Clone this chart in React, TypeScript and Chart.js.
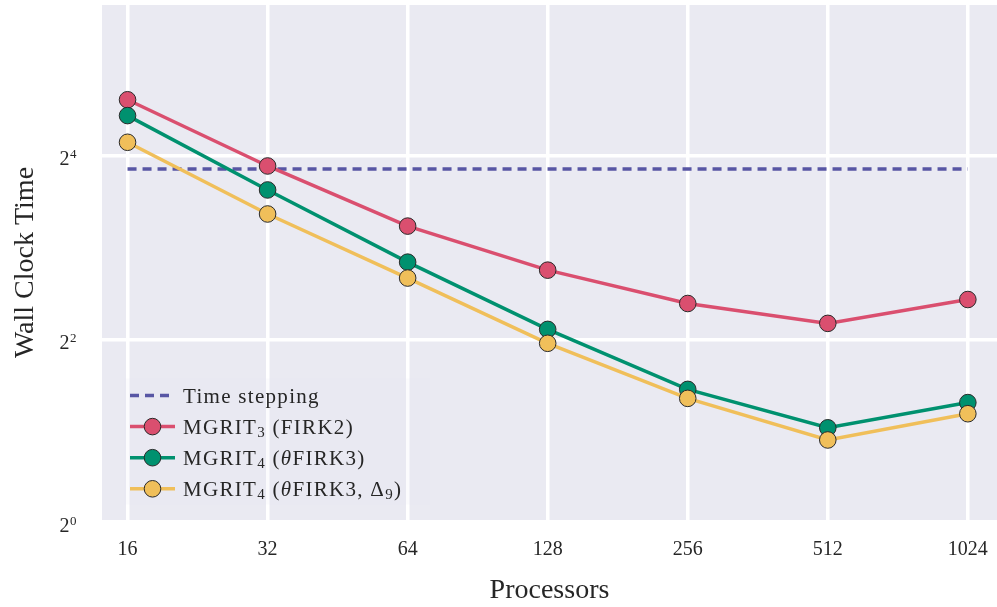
import React, { useEffect, useRef } from "react";
import { Chart, registerables } from "chart.js";

Chart.register(...registerables);

// ---- data ----
const processors = [16, 32, 64, 128, 256, 512, 1024];
const timeStepping = [14.47, 14.47, 14.47, 14.47, 14.47, 14.47, 14.47];
const mgrit3Firk2 = [24.4, 14.8, 9.4, 6.74, 5.24, 4.51, 5.4];
const mgrit4Firk3 = [21.65, 12.35, 7.16, 4.31, 2.74, 2.05, 2.48];
const mgrit4Firk3Delta9 = [17.7, 10.3, 6.35, 3.88, 2.56, 1.87, 2.28];
const yTickValues = [1, 4, 16];
const yTickBase = "2";
const yTickExponents = ["0", "2", "4"];
const xTitle = "Processors";
const yTitle = "Wall Clock Time";

// ---- styles ----
const BLUE = "#5856A4";
const RED = "#DA4F6F";
const GREEN = "#00916F";
const YELLOW = "#F0BF5A";
const TEXT = "#262626";
const BG = "#EAEAF2";
const FONT = '"Liberation Serif", "DejaVu Serif", serif';

type Part = { t: string; sub?: boolean; italic?: boolean };
const legendEntries: { color: string; dashed?: boolean; parts: Part[] }[] = [
  { color: BLUE, dashed: true, parts: [{ t: "Time stepping" }] },
  { color: RED, parts: [{ t: "MGRIT" }, { t: "3", sub: true }, { t: " (FIRK2)" }] },
  {
    color: GREEN,
    parts: [{ t: "MGRIT" }, { t: "4", sub: true }, { t: " (" }, { t: "θ", italic: true }, { t: "FIRK3)" }],
  },
  {
    color: YELLOW,
    parts: [
      { t: "MGRIT" },
      { t: "4", sub: true },
      { t: " (" },
      { t: "θ", italic: true },
      { t: "FIRK3, Δ" },
      { t: "9", sub: true },
      { t: ")" },
    ],
  },
];

const bgPlugin = {
  id: "bgPlugin",
  beforeDraw(chart: any) {
    const { ctx, chartArea } = chart;
    ctx.save();
    ctx.fillStyle = BG;
    ctx.fillRect(chartArea.left, chartArea.top, chartArea.right - chartArea.left, chartArea.bottom - chartArea.top);
    ctx.restore();
  },
};

// y tick labels as 2^n with a raised exponent
const yTickPlugin = {
  id: "yPowTicks",
  afterDraw(chart: any) {
    const { ctx } = chart;
    const scale = chart.scales.y;
    const right = scale.right - 26;
    ctx.save();
    ctx.fillStyle = TEXT;
    ctx.textBaseline = "alphabetic";
    ctx.textAlign = "left";
    yTickValues.forEach((v, i) => {
      const y = scale.getPixelForValue(v);
      ctx.font = `13px ${FONT}`;
      const ew = ctx.measureText(yTickExponents[i]).width;
      ctx.font = `20px ${FONT}`;
      const bw = ctx.measureText(yTickBase).width;
      const x0 = right - ew - bw;
      ctx.fillText(yTickBase, x0, y + 9.5);
      ctx.font = `13px ${FONT}`;
      ctx.fillText(yTickExponents[i], x0 + bw + 0.5, y + 2.5);
    });
    ctx.restore();
  },
};

const legendPlugin = {
  id: "insideLegend",
  afterDatasetsDraw(chart: any) {
    const { ctx, chartArea } = chart;
    const x0 = chartArea.left + 28;
    const x1 = x0 + 45;
    const xm = (x0 + x1) / 2;
    const tx = x0 + 53;
    const y0 = chartArea.bottom - 124.5;
    const dy = 31.1;
    // faint translucent legend frame background
    ctx.save();
    ctx.fillStyle = "rgba(234,234,242,0.18)";
    ctx.fillRect(chartArea.left + 22, y0 - 17, 306, 126);
    ctx.restore();
    legendEntries.forEach((e, i) => {
      const y = y0 + i * dy;
      ctx.save();
      ctx.strokeStyle = e.color;
      ctx.lineWidth = 3.5;
      ctx.lineCap = "butt";
      if (e.dashed) ctx.setLineDash([9, 6]);
      ctx.beginPath();
      ctx.moveTo(x0, y);
      ctx.lineTo(x1, y);
      ctx.stroke();
      ctx.setLineDash([]);
      if (!e.dashed) {
        ctx.beginPath();
        ctx.arc(xm, y, 8.3, 0, Math.PI * 2);
        ctx.fillStyle = e.color;
        ctx.fill();
        ctx.lineWidth = 1;
        ctx.strokeStyle = "#2a2a2a";
        ctx.stroke();
      }
      let x = tx;
      ctx.fillStyle = TEXT;
      ctx.textBaseline = "alphabetic";
      ctx.textAlign = "left";
      try {
        (ctx as any).letterSpacing = "1.3px";
      } catch (err) {}
      const baseline = y + 7;
      for (const p of e.parts) {
        ctx.font = `${p.italic ? "italic " : ""}${p.sub ? 15 : 21}px ${FONT}`;
        ctx.fillText(p.t, x, baseline + (p.sub ? 3 : 0));
        x += ctx.measureText(p.t).width;
      }
      try {
        (ctx as any).letterSpacing = "0px";
      } catch (err) {}
      ctx.restore();
    });
  },
};

function makeSeries(label: string, data: number[], color: string, order: number) {
  return {
    label,
    data: processors.map((p, i) => ({ x: p, y: data[i] })),
    borderColor: color,
    backgroundColor: color,
    borderWidth: 3.5,
    pointRadius: 8.3,
    pointHoverRadius: 8.3,
    pointBackgroundColor: color,
    pointBorderColor: "#2a2a2a",
    pointBorderWidth: 1,
    tension: 0,
    order,
  };
}

export default function App() {
  const ref = useRef<HTMLCanvasElement | null>(null);
  useEffect(() => {
    if (!ref.current) return;
    const chart = new Chart(ref.current, {
      type: "line",
      data: {
        datasets: [
          {
            label: "Time stepping",
            data: processors.map((p, i) => ({ x: p, y: timeStepping[i] })),
            borderColor: BLUE,
            backgroundColor: BLUE,
            borderWidth: 3.5,
            borderDash: [9, 6],
            pointRadius: 0,
            order: 3,
          },
          makeSeries("MGRIT3 (FIRK2)", mgrit3Firk2, RED, 2),
          makeSeries("MGRIT4 (θFIRK3)", mgrit4Firk3, GREEN, 1),
          makeSeries("MGRIT4 (θFIRK3, Δ9)", mgrit4Firk3Delta9, YELLOW, 0),
        ] as any,
      },
      options: {
        animation: false,
        responsive: false,
        maintainAspectRatio: false,
        layout: { autoPadding: false, padding: { top: 5, left: 0, right: 0, bottom: 0 } },
        plugins: { legend: { display: false }, tooltip: { enabled: false } },
        scales: {
          x: {
            type: "logarithmic",
            min: 14.1,
            max: 1183,
            afterBuildTicks: (scale: any) => {
              scale.ticks = processors.map((v) => ({ value: v }));
            },
            afterFit: (scale: any) => {
              scale.height = 87;
              scale.paddingLeft = 0;
              scale.paddingRight = 0;
            },
            ticks: {
              autoSkip: false,
              maxRotation: 0,
              padding: 0,
              color: TEXT,
              font: { family: FONT, size: 20 },
              callback: (v: any) => String(v),
            },
            grid: {
              color: "#ffffff",
              lineWidth: 3.5,
              drawTicks: true,
              tickLength: 18,
              tickColor: "rgba(0,0,0,0)",
            },
            border: { display: false },
            title: {
              display: true,
              text: xTitle,
              color: TEXT,
              font: { family: FONT, size: 28 },
              padding: 0,
            },
          },
          y: {
            type: "logarithmic",
            min: 1.022,
            max: 49.9,
            afterBuildTicks: (scale: any) => {
              scale.ticks = yTickValues.map((v) => ({ value: v }));
            },
            afterFit: (scale: any) => {
              scale.width = 102;
              scale.paddingTop = 0;
              scale.paddingBottom = 0;
            },
            ticks: {
              display: false,
              autoSkip: false,
            },
            grid: { color: "#ffffff", lineWidth: 3.5, drawTicks: false },
            border: { display: false },
            title: {
              display: true,
              text: yTitle,
              color: TEXT,
              font: { family: FONT, size: 28 },
              padding: { top: 9, bottom: 0 },
            },
          },
        },
      } as any,
      plugins: [bgPlugin, legendPlugin, yTickPlugin],
    });
    return () => chart.destroy();
  }, []);
  return (
    <div style={{ position: "absolute", left: 0, top: 0, width: 997, height: 607, background: "#fff" }}>
      <canvas ref={ref} width={997} height={607} style={{ width: 997, height: 607, display: "block" }} />
    </div>
  );
}
